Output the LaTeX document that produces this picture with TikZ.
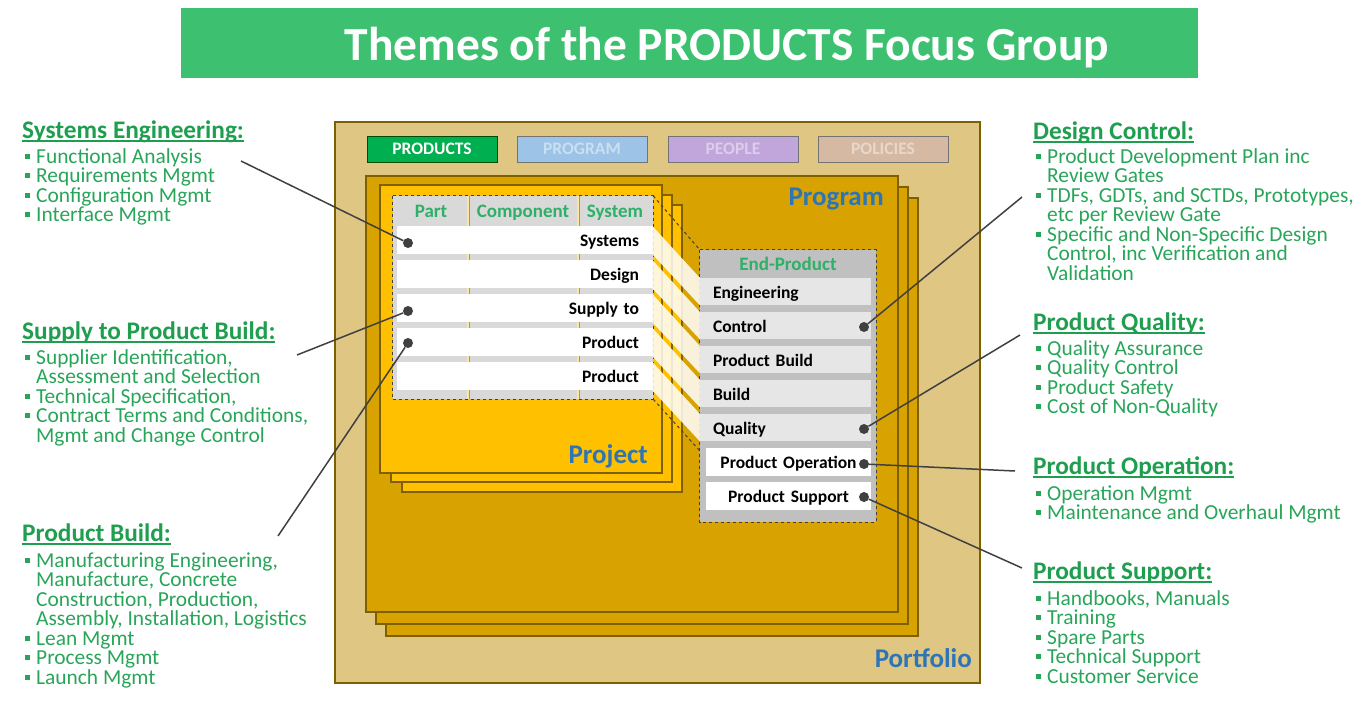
\documentclass[tikz,border=0pt]{standalone}
\usepackage{fontspec}
\setmainfont{Carlito}
\usetikzlibrary{positioning}

\definecolor{barGreen}{HTML}{3DC070}
\definecolor{headGreen}{HTML}{1E9E4E}
\definecolor{itemGreen}{HTML}{28A559}
\definecolor{colGreen}{HTML}{2DB067}
\definecolor{portfolioTan}{HTML}{DFC682}
\definecolor{programGold}{HTML}{D8A300}
\definecolor{projectYellow}{HTML}{FFC000}
\definecolor{layerEdge}{HTML}{7F6000}
\definecolor{labelBlue}{HTML}{2E75B6}
\definecolor{ink}{HTML}{404040}
\definecolor{colLine}{HTML}{C49A00}
\definecolor{tblGray}{HTML}{D9D9D9}
\definecolor{epGray}{HTML}{C0C0C0}
\definecolor{epRow}{HTML}{E6E6E6}
\definecolor{tabGreen}{HTML}{00B050}
\definecolor{tabBlue}{HTML}{9DC3E6}
\definecolor{tabBlueText}{HTML}{C9DFF2}
\definecolor{tabPurple}{HTML}{C0A6DA}
\definecolor{tabPurpleText}{HTML}{DCCDEC}
\definecolor{tabTan}{HTML}{D5B9A3}
\definecolor{tabTanText}{HTML}{E8D8CB}

\lineskiplimit=-30pt

\newcommand{\bul}{\makebox[14pt][l]{\hspace{3pt}\rule[4.5pt]{4.8pt}{5pt}}}
\newcommand{\ind}{\hspace*{14pt}}
\newcommand{\firstline}{\rule{0pt}{17pt}}
\newcommand{\hdl}[1]{\setbox0\hbox{#1}\rlap{\rule[-4pt]{\wd0}{1.6pt}}\box0}

\begin{document}
\begin{tikzpicture}[
		x = 1pt,
		y = -1pt,
		theme/.style = {
			anchor = base west,
			inner sep = 0,
			text = headGreen,
			font = \fontsize{25.3}{28}\selectfont\bfseries
		},
		points/.style = {
			anchor = north west,
			inner sep = 0,
			align = left,
			text = itemGreen,
			font = \fontsize{21.4}{19.5}\selectfont
		},
		tabbox/.style = {
			draw = black!55,
			line width = 1pt,
			minimum width = 130pt,
			minimum height = 26pt,
			inner sep = 0,
			font = \fontsize{17.5}{18}\selectfont\bfseries
		},
		stack/.style = {
			draw = layerEdge,
			line width = 1.2pt
		},
		tier/.style = {
			anchor = base east,
			inner sep = 0,
			text = labelBlue,
			font = \fontsize{27}{28}\selectfont\bfseries
		},
		colhead/.style = {
			anchor = base,
			inner sep = 0,
			text = colGreen,
			font = \fontsize{19}{20}\selectfont\bfseries
		},
		lrow/.style = {
			fill = white,
			minimum width = 255pt,
			minimum height = 28pt,
			inner sep = 0,
			text width = 229pt,
			align = right,
			text height = 16pt,
			text depth = 3pt,
			font = \fontsize{17.5}{18}\selectfont\bfseries
		},
		erow/.style = {
			fill = epRow,
			minimum width = 171pt,
			minimum height = 27pt,
			inner sep = 0,
			text width = 145pt,
			align = left,
			text height = 16pt,
			text depth = 3pt,
			font = \fontsize{17.5}{18}\selectfont\bfseries
		},
		wrow/.style = {
			erow,
			fill = white,
			minimum width = 165pt,
			minimum height = 28pt,
			align = center
		},
		band/.style = {
			fill = white,
			fill opacity = 0.85
		},
		dashbox/.style = {
			draw = ink,
			dashed,
			line width = 1pt
		},
		colsep/.style = {
			draw = colLine,
			line width = 0.8pt,
			double = projectYellow!40,
			double distance = 1.4pt
		},
		dot/.style = {
			circle,
			fill = ink,
			inner sep = 0,
			minimum size = 10pt
		},
		conn/.style = {
			draw = ink,
			line width = 1.5pt
		}
	]
	\useasboundingbox (0, 0) rectangle (1366, 707);

	\node [fill = barGreen, minimum width = 1017pt, minimum height = 70pt, inner sep = 0] (bar) at (689.5, 43) {};
	\node [anchor = base, inner sep = 0, text = white, font = \fontsize{47.5}{50}\selectfont\bfseries] (title) at (727, 60) {Themes of the PRODUCTS Focus Group};

	\draw [stack, fill = portfolioTan] (335, 122) rectangle (980, 683);
	\node [tier] (portfolio) at (972, 667) {Portfolio};

	\node [tabbox, fill = tabGreen, draw = green!30!black, text = white] (tProducts) at (432, 149) {PRODUCTS};
	\node [tabbox, fill = tabBlue, text = tabBlueText] (tProgram) at (582, 149) {PROGRAM};
	\node [tabbox, fill = tabPurple, text = tabPurpleText] (tPeople) at (733, 149) {PEOPLE};
	\node [tabbox, fill = tabTan, text = tabTanText] (tPolicies) at (883, 149) {POLICIES};

	\draw [stack, fill = programGold] (386, 198) rectangle (918, 636);
	\draw [stack, fill = programGold] (376, 187) rectangle (908, 624);
	\draw [stack, fill = programGold] (366, 176) rectangle (898, 612);
	\node [tier] (program) at (884, 205) {Program};

	\draw [stack, fill = projectYellow] (402, 205) rectangle (682, 492);
	\draw [stack, fill = projectYellow] (391, 195) rectangle (672, 482);
	\draw [stack, fill = projectYellow] (380, 185) rectangle (662, 473);
	\node [tier] (project) at (648, 463) {Project};

	\node [fill = tblGray, minimum width = 260pt, minimum height = 203pt, inner sep = 0] (tbl) at (523, 297.5) {};
	\draw [colsep] (468, 196) -- (468, 399);
	\draw [colsep] (578, 196) -- (578, 399);
	\node [colhead] (hPart) at (431, 217) {Part};
	\node [colhead] (hComp) at (523, 217) {Component};
	\node [colhead] (hSys) at (615, 217) {System};

	\node [lrow] (rSys) at (524.5, 240) {Systems};
	\node [lrow] (rDes) at (524.5, 274) {Design};
	\node [lrow] (rSup) at (524.5, 308) {Supply to};
	\node [lrow] (rPrA) at (524.5, 342) {Product};
	\node [lrow] (rPrB) at (524.5, 376) {Product};
	\draw [dashbox] (tbl.north west) rectangle (tbl.south east);

	\node [fill = epGray, minimum width = 176pt, minimum height = 272pt, inner sep = 0] (ep) at (788, 386) {};
	\node [colhead] (hEnd) at (788, 270) {End-Product};
	\node [erow] (eEng) at (785.5, 291.5) {Engineering};
	\node [erow] (eCtl) at (785.5, 325.5) {Control};
	\node [erow] (ePB) at (785.5, 359.5) {Product Build};
	\node [erow] (eBld) at (785.5, 393.5) {Build};
	\node [erow] (eQty) at (785.5, 427.5) {Quality};
	\node [wrow] (eOpr) at (788.5, 462) {Product Operation};
	\node [wrow] (eSpt) at (788.5, 496) {Product Support};
	\draw [dashbox] (ep.north west) rectangle (ep.south east);

	\fill [band] (rSys.north east) -- (eEng.north west) -- (eEng.south west) -- (rSys.south east) -- cycle;
	\fill [band] (rDes.north east) -- (eCtl.north west) -- (eCtl.south west) -- (rDes.south east) -- cycle;
	\fill [band] (rSup.north east) -- (ePB.north west) -- (ePB.south west) -- (rSup.south east) -- cycle;
	\fill [band] (rPrA.north east) -- (eBld.north west) -- (eBld.south west) -- (rPrA.south east) -- cycle;
	\fill [band] (rPrB.north east) -- (eQty.north west) -- (eQty.south west) -- (rPrB.south east) -- cycle;

	\coordinate (epLow) at (700, 451);
	\draw [dashbox] (tbl.north east) -- (ep.north west);
	\draw [dashbox] (tbl.south east) -- (epLow);

	\node [dot] (dSys) at (408, 243) {};
	\node [dot] (dSup) at (408, 311) {};
	\node [dot] (dBld) at (408, 343) {};
	\node [dot] (dCtl) at (864, 327) {};
	\node [dot] (dQty) at (864, 429) {};
	\node [dot] (dOpr) at (864, 464) {};
	\node [dot] (dSpt) at (864, 497) {};

	\node [theme] (hdSysEng) at (22, 138) {\hdl{Systems Engineering:}};
	\node [points] (lsSysEng) at (22, 146) {\firstline\bul Functional Analysis\\\bul Requirements Mgmt\\\bul Configuration Mgmt\\\bul Interface Mgmt};

	\node [theme] (hdSupply) at (22, 339) {\hdl{Supply to Product Build:}};
	\node [points] (lsSupply) at (22, 347) {\firstline\bul Supplier Identification,\\\ind Assessment and Selection\\\bul Technical Specification,\\\bul Contract Terms and Conditions,\\\ind Mgmt and Change Control};

	\node [theme] (hdBuild) at (22, 541) {\hdl{Product Build:}};
	\node [points] (lsBuild) at (22, 550) {\firstline\bul Manufacturing Engineering,\\\ind Manufacture, Concrete\\\ind Construction, Production,\\\ind Assembly, Installation, Logistics\\\bul Lean Mgmt\\\bul Process Mgmt\\\bul Launch Mgmt};

	\node [theme] (hdDesign) at (1033, 139) {\hdl{Design Control:}};
	\node [points] (lsDesign) at (1033, 146) {\firstline\bul Product Development Plan inc\\\ind Review Gates\\\bul TDFs, GDTs, and SCTDs, Prototypes,\\\ind etc per Review Gate\\\bul Specific and Non-Specific Design\\\ind Control, inc Verification and\\\ind Validation};

	\node [theme] (hdQuality) at (1033, 330) {\hdl{Product Quality:}};
	\node [points] (lsQuality) at (1033, 338) {\firstline\bul Quality Assurance\\\bul Quality Control\\\bul Product Safety\\\bul Cost of Non-Quality};

	\node [theme] (hdOperation) at (1033, 474) {\hdl{Product Operation:}};
	\node [points] (lsOperation) at (1033, 483) {\firstline\bul Operation Mgmt\\\bul Maintenance and Overhaul Mgmt};

	\node [theme] (hdSupport) at (1033, 579) {\hdl{Product Support:}};
	\node [points] (lsSupport) at (1033, 588) {\firstline\bul Handbooks, Manuals\\\bul Training\\\bul Spare Parts\\\bul Technical Support\\\bul Customer Service};

	\coordinate (eSysEng) at (241, 161);
	\coordinate (eSupply) at (297, 355);
	\coordinate (eBuild) at (278, 536);
	\coordinate (eDesign) at (1022, 197);
	\coordinate (eQuality) at (1020, 335);
	\coordinate (eOperation) at (1015, 471);
	\coordinate (eSupport) at (1022, 568);

	\draw [conn] (eSysEng) -- (dSys);
	\draw [conn] (eSupply) -- (dSup);
	\draw [conn] (eBuild) -- (dBld);
	\draw [conn] (eDesign) -- (dCtl);
	\draw [conn] (eQuality) -- (dQty);
	\draw [conn] (eOperation) -- (dOpr);
	\draw [conn] (eSupport) -- (dSpt);
\end{tikzpicture}
\end{document}
